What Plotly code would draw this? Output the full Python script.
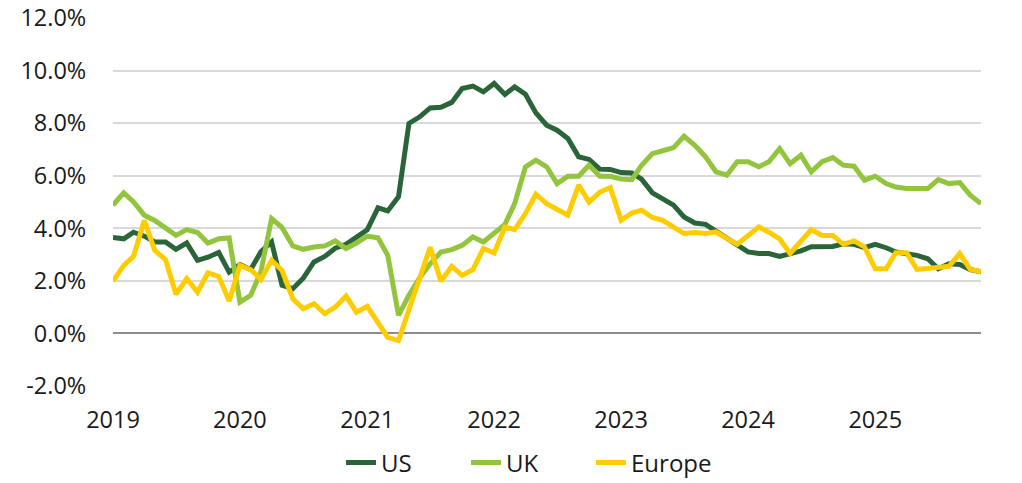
import plotly.graph_objects as go
import pandas as pd

dates = pd.date_range("2019-01-01", "2025-11-01", freq="MS")

us = [3.65, 3.6, 3.85, 3.7, 3.48, 3.48, 3.2, 3.44, 2.78, 2.9, 3.08, 2.33,
      2.62, 2.43, 3.1, 3.48, 1.83, 1.7, 2.1, 2.72, 2.93, 3.24, 3.39, 3.65,
      3.94, 4.78, 4.66, 5.2, 7.99, 8.24, 8.58, 8.6, 8.79, 9.32, 9.41, 9.19,
      9.51, 9.09, 9.38, 9.1, 8.39, 7.92, 7.73, 7.42, 6.72, 6.62, 6.25, 6.24,
      6.12, 6.1, 5.87, 5.35, 5.13, 4.88, 4.43, 4.2, 4.15, 3.9, 3.65, 3.41,
      3.1, 3.04, 3.04, 2.93, 3.04, 3.14, 3.3, 3.31, 3.31, 3.41, 3.39, 3.26,
      3.39, 3.26, 3.1, 3.03, 2.97, 2.84, 2.46, 2.65, 2.62, 2.43, 2.34]

uk = [4.88, 5.35, 5.0, 4.5, 4.3, 3.99, 3.73, 3.95, 3.84, 3.44, 3.6, 3.63,
      1.19, 1.45, 2.34, 4.37, 4.03, 3.33, 3.2, 3.29, 3.33, 3.52, 3.23, 3.44,
      3.7, 3.64, 2.97, 0.69, 1.45, 2.12, 2.65, 3.1, 3.19, 3.35, 3.67, 3.48,
      3.8, 4.15, 4.94, 6.34, 6.59, 6.34, 5.7, 5.98, 5.98, 6.4, 5.98, 5.98,
      5.87, 5.85, 6.4, 6.84, 6.95, 7.07, 7.5, 7.16, 6.72, 6.15, 6.02, 6.53,
      6.53, 6.34, 6.53, 7.03, 6.46, 6.78, 6.15, 6.53, 6.69, 6.4, 6.36, 5.83,
      5.98, 5.7, 5.57, 5.51, 5.51, 5.51, 5.85, 5.7, 5.74, 5.26, 4.94]

europe = [1.99, 2.59, 2.93, 4.3, 3.16, 2.81, 1.49, 2.08, 1.57, 2.31, 2.17, 1.23,
          2.59, 2.43, 2.05, 2.78, 2.4, 1.32, 0.94, 1.13, 0.75, 1.0, 1.42, 0.81,
          1.03, 0.43, -0.15, -0.27, 0.9, 2.1, 3.28, 1.99, 2.55, 2.21, 2.43, 3.23,
          3.06, 4.05, 3.95, 4.56, 5.3, 4.94, 4.71, 4.5, 5.64, 5.0, 5.38, 5.55,
          4.3, 4.58, 4.69, 4.41, 4.3, 4.03, 3.8, 3.84, 3.8, 3.86, 3.62, 3.39,
          3.72, 4.05, 3.85, 3.6, 3.04, 3.5, 3.95, 3.73, 3.73, 3.39, 3.52, 3.29,
          2.46, 2.46, 3.07, 3.07, 2.44, 2.47, 2.52, 2.56, 3.04, 2.44, 2.34]

y_tick_values = [-2, 0, 2, 4, 6, 8, 10, 12]
y_tick_labels = ["-2.0%", "0.0%", "2.0%", "4.0%", "6.0%", "8.0%", "10.0%", "12.0%"]

series = [("US", us, "#2A6439"), ("UK", uk, "#93C43E"), ("Europe", europe, "#FFCC00")]

fig = go.Figure()
for name, vals, color in series:
    fig.add_trace(go.Scatter(
        x=dates, y=vals, name=name, mode="lines",
        line=dict(color=color, width=5),
    ))

font = dict(family="Open Sans", size=23.5, color="#1a1a1a")
fig.update_layout(
    width=1022, height=483,
    margin=dict(l=113, r=41, t=18, b=97, autoexpand=False),
    paper_bgcolor="white", plot_bgcolor="white",
    font=font,
    showlegend=True,
    legend=dict(orientation="h", xanchor="left", x=0.2627, yanchor="middle", y=-0.209,
                font=dict(family="Open Sans", size=24, color="#1a1a1a"),
                entrywidth=80, tracegroupgap=0),
)
fig.update_xaxes(
    type="date", range=["2019-01-01", "2025-11-01"],
    tick0="2019-01-01", dtick="M12", tickformat="%Y",
    showgrid=False, showline=False, zeroline=False, automargin=False,
    ticks="outside", ticklen=13, tickcolor="rgba(0,0,0,0)",
)
fig.update_yaxes(
    range=[-2, 12], tickvals=y_tick_values, ticktext=y_tick_labels,
    showgrid=True, gridcolor="#d9d9d9", gridwidth=1.5,
    zeroline=True, zerolinecolor="#8c8c8c", zerolinewidth=2,
    showline=False, automargin=False,
    ticks="outside", ticklen=21, tickcolor="rgba(0,0,0,0)",
)
fig.write_html("out.html", config={"displayModeBar": False},
               post_script="document.body.style.margin='0';document.body.style.overflow='hidden';")
